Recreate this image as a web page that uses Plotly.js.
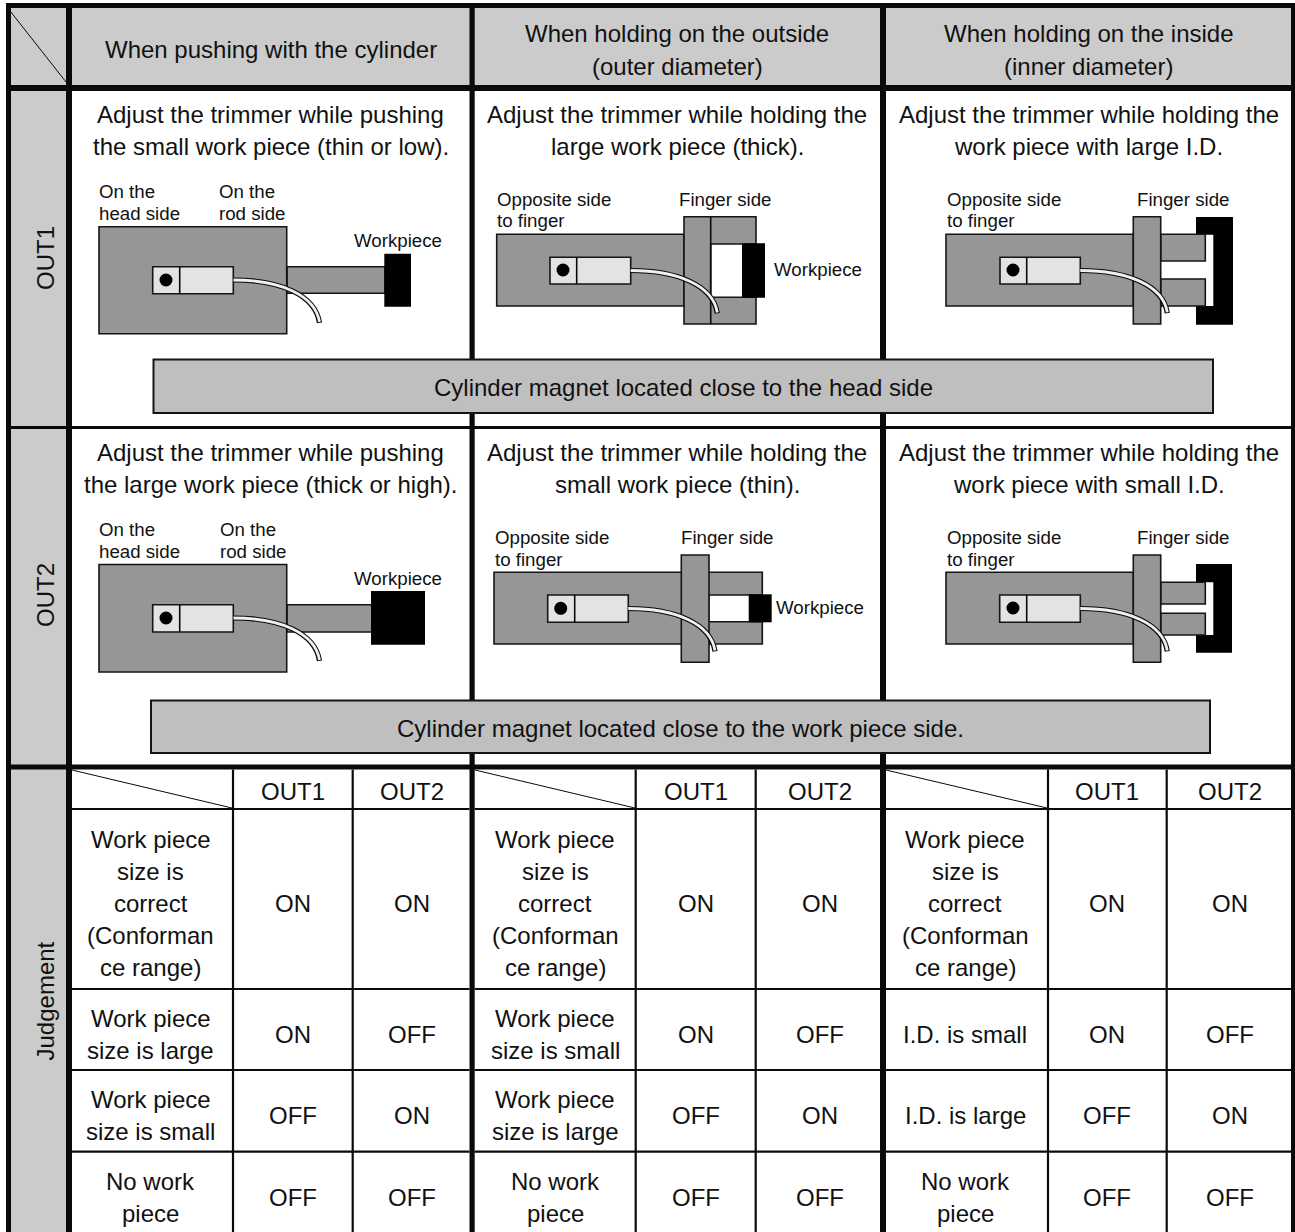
<!DOCTYPE html>
<html>
<head>
<meta charset="utf-8">
<script src="https://cdn.plot.ly/plotly-3.0.1.min.js"></script>
<style>html,body{margin:0;padding:0;background:#fff}#chart{width:1295px;height:1232px}</style>
</head>
<body>
<div id="chart"></div>
<script>
// ---------- content ----------
const columnHeaders = [
  ["When pushing with the cylinder"],
  ["When holding on the outside", "(outer diameter)"],
  ["When holding on the inside", "(inner diameter)"]
];
const rowHeaders = ["OUT1", "OUT2", "Judgement"];
const out1Instructions = [
  ["Adjust the trimmer while pushing", "the small work piece (thin or low)."],
  ["Adjust the trimmer while holding the", "large work piece (thick)."],
  ["Adjust the trimmer while holding the", "work piece with large I.D."]
];
const out2Instructions = [
  ["Adjust the trimmer while pushing", "the large work piece (thick or high)."],
  ["Adjust the trimmer while holding the", "small work piece (thin)."],
  ["Adjust the trimmer while holding the", "work piece with small I.D."]
];
const magnetNotes = [
  "Cylinder magnet located close to the head side",
  "Cylinder magnet located close to the work piece side."
];
const outputNames = ["OUT1", "OUT2"];
const judgementRows = [
  [["Work piece","size is","correct","(Conforman","ce range)"], ["Work piece","size is large"], ["Work piece","size is small"], ["No work","piece"]],
  [["Work piece","size is","correct","(Conforman","ce range)"], ["Work piece","size is small"], ["Work piece","size is large"], ["No work","piece"]],
  [["Work piece","size is","correct","(Conforman","ce range)"], ["I.D. is small"], ["I.D. is large"], ["No work","piece"]]
];
const out1States = ["ON", "ON", "OFF", "OFF"];
const out2States = ["ON", "OFF", "ON", "OFF"];

// ---------- layout helpers ----------
const FONT = "Liberation Sans, Arial, sans-serif";
const INK = "#0a0a0a", DARK = "#151515";
const HEAD_GREY = "#cbcbcb", BAR_GREY = "#bfbfbf", BODY_GREY = "#969696", SENSOR_GREY = "#e3e3e3";
const MAIN = 24, SMALL = 18.7;
const TEXT_DY = -1, TRACE_DY = 2;

const shapes = [], annotations = [];
function fillRect(x0, y0, x1, y1, fill) {
  shapes.push({type:"rect", xref:"x", yref:"y", x0, y0, x1, y1, fillcolor:fill, line:{width:0}});
}
function box(x0, y0, x1, y1, fill, w) {
  shapes.push({type:"rect", xref:"x", yref:"y", x0, y0, x1, y1, fillcolor:fill, line:{color:DARK, width:w === undefined ? 1.6 : w}});
}
function seg(x0, y0, x1, y1, w) {
  shapes.push({type:"line", xref:"x", yref:"y", x0, y0, x1, y1, line:{color:INK, width:w}});
}
function label(text, x, y, size, anchor, angle) {
  annotations.push({text, x, y: y + TEXT_DY, xref:"x", yref:"y", showarrow:false, xanchor:anchor || "center", yanchor:"middle",
    font:{family:FONT, size, color:"#111"}, textangle:angle || 0, borderpad:0, borderwidth:0});
}
function lines(list, x, y, step, size) {
  list.forEach((t, i) => label(t, x, y + i * step, size));
}
function sensor(x0, y0, x1, y1, split, dotX, dotY) {
  box(x0, y0, x1, y1, SENSOR_GREY);
  seg(split, y0, split, y1, 1.6);
  shapes.push({type:"circle", xref:"x", yref:"y", x0:dotX-6.5, x1:dotX+6.5, y0:dotY-6.5, y1:dotY+6.5, fillcolor:"#000", line:{width:0}});
}
function cable(sx, sy, ex, ey) {
  const dx = ex - sx, dy = ey - sy;
  const p = (e) => `M${sx},${sy} C${sx+dx*0.55},${sy} ${sx+dx*0.95},${sy+dy*0.36} ${ex},${e}`;
  shapes.push({type:"path", xref:"x", yref:"y", path:p(ey+0.8), line:{color:INK, width:5.2}});
  shapes.push({type:"path", xref:"x", yref:"y", path:p(ey), line:{color:"#efefef", width:2.8}});
}

// ---------- grid ----------
fillRect(11, 8, 66, 85, HEAD_GREY);
fillRect(72, 8, 1291, 85, HEAD_GREY);
fillRect(11, 90, 66, 1232, HEAD_GREY);
seg(10.5, 11.5, 66, 82, 1);

// thick frame lines
fillRect(6, 3, 11, 1232, INK);
fillRect(66, 3, 72, 1232, INK);
fillRect(469.5, 3, 474.7, 1232, INK);
fillRect(880, 3, 886, 1232, INK);
fillRect(1291, 3, 1295, 1232, INK);
fillRect(6, 3, 1295, 8, INK);
fillRect(6, 85, 1295, 91, INK);
fillRect(6, 426, 1295, 429, INK);
fillRect(6, 764.5, 1295, 769.5, INK);

// judgement table rules
[809, 989, 1070, 1151.7].forEach(y => { seg(72, y, 469.5, y, 2.2); seg(474.7, y, 880, y, 2.2); seg(886, y, 1291, y, 2.2); });
[233, 352.7, 635.7, 755.7, 1048, 1166.7].forEach(x => seg(x, 769.5, x, 1232, 2.2));
seg(72, 770, 232, 808, 1);
seg(475, 770, 635, 808, 1);
seg(886, 770, 1047, 808, 1);

// ---------- diagrams: column 1 ----------
box(287, 266.7, 385, 293.3, BODY_GREY);
box(99, 226.7, 286.7, 333.7, BODY_GREY);
fillRect(384.3, 253.7, 411, 306.7, "#000");
sensor(152.7, 266.7, 233.3, 293.7, 179.7, 166, 280);
cable(233.5, 280, 319.5, 322);

box(287, 604.7, 372, 632, BODY_GREY);
box(99, 564.5, 286.7, 672, BODY_GREY);
fillRect(371, 591, 425, 644.7, "#000");
sensor(152.7, 604.7, 233.3, 632, 179.7, 166, 618);
cable(233.5, 618, 319.5, 660);

// ---------- diagrams: column 2 ----------
box(496.7, 234.3, 684, 306, BODY_GREY);
box(684, 216.7, 756, 324, BODY_GREY);
box(710.7, 244, 756, 297.3, "#fff");
seg(710.7, 216.7, 710.7, 324, 1.6);
fillRect(742, 243.3, 765, 297.7, "#000");
sensor(550, 257.3, 630.7, 284, 576.7, 563, 270);
cable(630.7, 270.5, 717.3, 312.5);

box(494, 572.3, 762.3, 644, BODY_GREY);
box(708.7, 595, 762.3, 621.7, "#fff");
fillRect(748.7, 594.3, 771.7, 622.3, "#000");
box(681.3, 555, 709, 662.3, BODY_GREY);
sensor(547.7, 595, 628.3, 622.3, 574.7, 560.7, 608.3);
cable(628.3, 608.5, 715, 650.5);

// ---------- diagrams: column 3 ----------
fillRect(1196, 217, 1233, 324.7, "#000");
fillRect(1160, 234.7, 1213.3, 306, "#fff");
box(1160.7, 234.3, 1205.3, 261, BODY_GREY);
box(1160.7, 279, 1205.3, 306, BODY_GREY);
box(946, 234.3, 1133.3, 306, BODY_GREY);
box(1133.3, 216.7, 1160.7, 324, BODY_GREY);
sensor(1000, 257.3, 1080.3, 284, 1026.7, 1013, 270);
cable(1080.3, 270.5, 1167.3, 312.3);

fillRect(1196, 564, 1232, 652.7, "#000");
fillRect(1160, 582.3, 1213.3, 635, "#fff");
box(1160.7, 582.3, 1205.3, 604, BODY_GREY);
box(1160.7, 613.3, 1205.3, 635, BODY_GREY);
box(946, 572.3, 1133.3, 644, BODY_GREY);
box(1133.3, 555, 1160.7, 662.3, BODY_GREY);
sensor(999.7, 595, 1080.3, 622.3, 1026.7, 1013, 608);
cable(1080.3, 608.5, 1167.3, 650.5);

// magnet bars (sit on top of the vertical rules)
box(153.5, 359.5, 1213, 413, BAR_GREY, 2);
box(151, 700.5, 1210, 753, BAR_GREY, 2);

// ---------- text ----------
const colCentres = [270.5, 677, 1088.5];
lines(columnHeaders[0], colCentres[0], 50, 33, MAIN);
lines(columnHeaders[1], colCentres[1], 34, 33, MAIN);
lines(columnHeaders[2], colCentres[2], 34, 33, MAIN);
label(rowHeaders[0], 45, 259, MAIN, "center", -90);
label(rowHeaders[1], 45, 596, MAIN, "center", -90);
label(rowHeaders[2], 45, 1002.5, MAIN, "center", -90);
out1Instructions.forEach((l, i) => lines(l, colCentres[i], 115, 32, MAIN));
out2Instructions.forEach((l, i) => lines(l, colCentres[i], 453, 32, MAIN));
label(magnetNotes[0], 683, 388, MAIN);
label(magnetNotes[1], 680, 729, MAIN);

// small diagram captions
function caption(t, x, y) { label(t, x, y, SMALL, "left"); }
caption("On the", 99, 192); caption("head side", 99, 214);
caption("On the", 219, 192); caption("rod side", 219, 214);
caption("Workpiece", 354, 241);
caption("On the", 99, 530); caption("head side", 99, 552);
caption("On the", 219.5, 530); caption("rod side", 219.5, 552);
caption("Workpiece", 354, 579);
caption("Opposite side", 497, 200); caption("to finger", 497, 221.7);
caption("Finger side", 678.7, 200); caption("Workpiece", 774, 270.7);
caption("Opposite side", 495, 538); caption("to finger", 495, 560.7);
caption("Finger side", 680.7, 538); caption("Workpiece", 776, 608.7);
caption("Opposite side", 946.7, 200); caption("to finger", 946.7, 221.7);
caption("Finger side", 1137.3, 200);
caption("Opposite side", 946.7, 538); caption("to finger", 946.7, 560.7);
caption("Finger side", 1137.3, 538);

// judgement table
const labelCentres = [150.5, 555, 965];
const out1Centres = [293, 696, 1107];
const out2Centres = [412, 820, 1230];
const rowMiddles = [904, 1035, 1116, 1198];
const rowFirstLines = [[840, 1019, 1100, 1182], [840, 1019, 1100, 1182], [840, 1035, 1116, 1182]];
const stateX = [], stateY = [], stateText = [];
judgementRows.forEach((col, c) => {
  stateX.push(out1Centres[c], out2Centres[c]); stateY.push(792 + TRACE_DY, 792 + TRACE_DY); stateText.push(outputNames[0], outputNames[1]);
  col.forEach((txt, r) => {
    lines(txt, labelCentres[c], rowFirstLines[c][r], 32, MAIN);
    stateX.push(out1Centres[c], out2Centres[c]);
    stateY.push(rowMiddles[r] + TRACE_DY, rowMiddles[r] + TRACE_DY);
    stateText.push(out1States[r], out2States[r]);
  });
});

const traces = [{
  type:"scatter", mode:"text", x:stateX, y:stateY, text:stateText, textposition:"middle center",
  textfont:{family:FONT, size:MAIN, color:"#111"}, hoverinfo:"skip", showlegend:false, cliponaxis:false
}];
const layout = {
  width:1295, height:1232, margin:{l:0,r:0,t:0,b:0,pad:0}, autosize:false,
  paper_bgcolor:"#fff", plot_bgcolor:"#fff", showlegend:false,
  xaxis:{range:[0,1295], visible:false, fixedrange:true},
  yaxis:{range:[1232,0], visible:false, fixedrange:true},
  shapes, annotations
};
Plotly.newPlot("chart", traces, layout, {displayModeBar:false, staticPlot:true});
</script>
</body>
</html>
